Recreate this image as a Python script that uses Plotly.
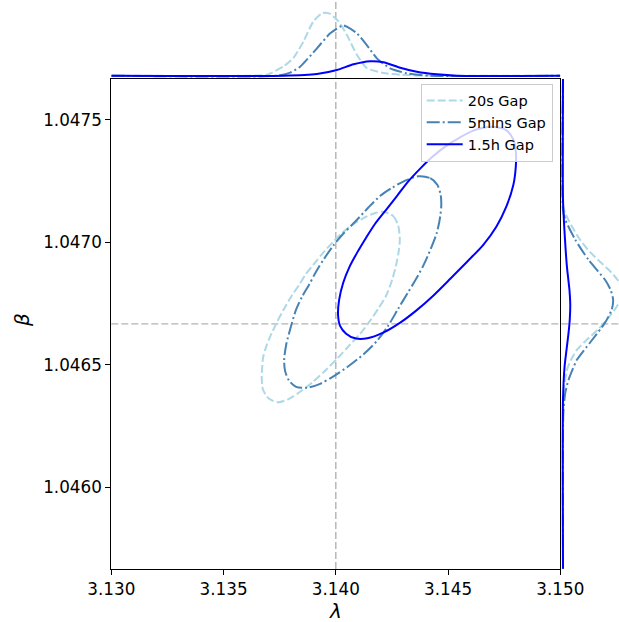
import plotly.graph_objects as go

# ---------------- data ----------------
series_names = ["20s Gap", "5mins Gap", "1.5h Gap"]
truth_lambda = 3.140
truth_beta = 1.046667

# 2D contours (lambda, beta)
c20_lam = [3.14211, 3.14256, 3.14278, 3.14285, 3.14280, 3.14269, 3.14251, 3.14224, 3.14189, 3.14153,
           3.14109, 3.14059, 3.14010, 3.13957, 3.13899, 3.13841, 3.13792, 3.13743, 3.13703, 3.13676,
           3.13670, 3.13672, 3.13676, 3.13690, 3.13707, 3.13739, 3.13770, 3.13801, 3.13837, 3.13868,
           3.13904, 3.13944, 3.13984, 3.14024, 3.14068, 3.14117, 3.14166, 3.14211]
c20_beta = [1.047125, 1.047107, 1.047068, 1.047011, 1.046962, 1.046909, 1.046847, 1.046782, 1.046729, 1.046680,
            1.046627, 1.046578, 1.046529, 1.046480, 1.046431, 1.046390, 1.046361, 1.046347, 1.046361, 1.046398,
            1.046447, 1.046488, 1.046529, 1.046574, 1.046614, 1.046676, 1.046729, 1.046778, 1.046827, 1.046872,
            1.046913, 1.046958, 1.046998, 1.047035, 1.047068, 1.047096, 1.047117, 1.047125]

c5m_lam = [3.14367, 3.14421, 3.14452, 3.14467, 3.14470, 3.14465, 3.14450, 3.14425, 3.14394, 3.14358,
           3.14318, 3.14278, 3.14233, 3.14184, 3.14126, 3.14059, 3.13993, 3.13930, 3.13872, 3.13823,
           3.13792, 3.13774, 3.13770, 3.13779, 3.13801, 3.13823, 3.13850, 3.13881, 3.13912, 3.13948,
           3.13988, 3.14033, 3.14086, 3.14144, 3.14198, 3.14251, 3.14309, 3.14367]
c5m_beta = [1.047270, 1.047262, 1.047235, 1.047194, 1.047154, 1.047105, 1.047039, 1.046978, 1.046913, 1.046851,
            1.046790, 1.046729, 1.046659, 1.046598, 1.046545, 1.046496, 1.046455, 1.046422, 1.046406, 1.046410,
            1.046435, 1.046475, 1.046520, 1.046582, 1.046659, 1.046725, 1.046778, 1.046827, 1.046880, 1.046933,
            1.046986, 1.047035, 1.047084, 1.047141, 1.047190, 1.047223, 1.047252, 1.047270]

c15h_lam = [3.14701, 3.14759, 3.14791, 3.14802, 3.14802, 3.14791, 3.14759, 3.14715, 3.14657, 3.14585,
            3.14510, 3.14434, 3.14358, 3.14287, 3.14211, 3.14140, 3.14086, 3.14046, 3.14019, 3.14010,
            3.14015, 3.14033, 3.14059, 3.14095, 3.14135, 3.14175, 3.14224, 3.14273, 3.14322, 3.14376,
            3.14429, 3.14487, 3.14550, 3.14612, 3.14657, 3.14701]
c15h_beta = [1.047472, 1.047458, 1.047419, 1.047370, 1.047313, 1.047235, 1.047145, 1.047064, 1.046990, 1.046921,
             1.046851, 1.046782, 1.046721, 1.046672, 1.046631, 1.046608, 1.046608, 1.046627, 1.046659, 1.046704,
             1.046766, 1.046835, 1.046896, 1.046958, 1.047019, 1.047076, 1.047133, 1.047190, 1.047248, 1.047301,
             1.047348, 1.047391, 1.047427, 1.047456, 1.047468, 1.047472]

# marginal densities of lambda (arbitrary units)
m20_lam = [3.130, 3.13618, 3.13693, 3.13767, 3.13811, 3.13856, 3.13900, 3.13938, 3.13957, 3.13975,
           3.14012, 3.14049, 3.14094, 3.14138, 3.14212, 3.14287, 3.14361, 3.14465, 3.150]
m20_lam_d = [0.0, 0.0, 0.016, 0.148, 0.281, 0.544, 0.862, 0.99, 1.0, 0.98,
             0.862, 0.651, 0.333, 0.122, 0.043, 0.016, 0.005, 0.0, 0.0]
m5m_lam = [3.130, 3.13737, 3.13797, 3.13841, 3.13916, 3.13975, 3.14019, 3.14034, 3.14049, 3.14094,
           3.14138, 3.14183, 3.14242, 3.14317, 3.14421, 3.150]
m5m_lam_d = [0.0, 0.0, 0.05, 0.143, 0.435, 0.673, 0.778, 0.80, 0.778, 0.673,
             0.487, 0.276, 0.117, 0.038, 0.0, 0.0]
m15h_lam = [3.130, 3.13767, 3.13916, 3.14005, 3.14079, 3.14153, 3.14212, 3.14287, 3.14361, 3.14450,
            3.14540, 3.150]
m15h_lam_d = [0.0, 0.0, 0.027, 0.090, 0.181, 0.23, 0.215, 0.127, 0.063, 0.022, 0.0, 0.0]

# marginal densities of beta (arbitrary units)
m20_beta = [1.045667, 1.046275, 1.046357, 1.046418, 1.046480, 1.046520, 1.046561, 1.046602, 1.046643, 1.046684,
            1.046725, 1.046766, 1.046806, 1.046847, 1.046888, 1.046929, 1.046970, 1.047011, 1.047072, 1.047121,
            1.047154, 1.047667]
m20_beta_d = [0.0, 0.0, 0.008, 0.024, 0.064, 0.127, 0.222, 0.38, 0.556, 0.70,
              0.825, 0.92, 0.94, 0.87, 0.73, 0.556, 0.397, 0.27, 0.127, 0.032,
              0.0, 0.0]
m5m_beta = [1.045667, 1.046234, 1.046316, 1.046386, 1.046439, 1.046520, 1.046590, 1.046672, 1.046725, 1.046766,
            1.046806, 1.046847, 1.046929, 1.047011, 1.047092, 1.047133, 1.047667]
m5m_beta_d = [0.0, 0.0, 0.008, 0.037, 0.089, 0.222, 0.43, 0.671, 0.778, 0.80,
              0.76, 0.671, 0.406, 0.195, 0.037, 0.0, 0.0]
m15h_beta = [1.045667, 1.046357, 1.046492, 1.046561, 1.046631, 1.046684, 1.046745, 1.046806, 1.046900, 1.047011,
             1.047174, 1.047667]
m15h_beta_d = [0.0, 0.0, 0.025, 0.056, 0.089, 0.108, 0.116, 0.103, 0.063, 0.032, 0.0, 0.0]

x_ticks = [3.130, 3.135, 3.140, 3.145, 3.150]
y_ticks = [1.0460, 1.0465, 1.0470, 1.0475]

# ---------------- styling ----------------
W, H = 619, 622
colors = ["#ADD8E6", "#4682B4", "#0000FF"]
dashes = ["8px,3px", "13px,3px,2px,3px", "solid"]
FONT = "DejaVu Sans"

def px_x(p):
    return p / W

def px_y(p):
    return (H - p) / H

main_xdom = [px_x(111.3), px_x(560.3)]
main_ydom = [px_y(569), px_y(79)]
x_range = [3.130, 3.150]
y_range = [1.045666, 1.047667]

contours = [(c20_lam, c20_beta), (c5m_lam, c5m_beta), (c15h_lam, c15h_beta)]
mlam = [(m20_lam, m20_lam_d), (m5m_lam, m5m_lam_d), (m15h_lam, m15h_lam_d)]
mbeta = [(m20_beta, m20_beta_d), (m5m_beta, m5m_beta_d), (m15h_beta, m15h_beta_d)]

fig = go.Figure()
for i, name in enumerate(series_names):
    line = dict(color=colors[i], width=2, dash=dashes[i], shape="spline", smoothing=0.8)
    cx, cy = contours[i]
    fig.add_trace(go.Scatter(x=cx, y=cy, mode="lines", name=name, line=line,
                             legendgroup=name, xaxis="x", yaxis="y"))
for i, name in enumerate(series_names):
    line = dict(color=colors[i], width=2, dash=dashes[i], shape="spline", smoothing=0.6)
    lx, ld = mlam[i]
    fig.add_trace(go.Scatter(x=lx, y=ld, mode="lines", line=line, showlegend=False,
                             legendgroup=name, xaxis="x2", yaxis="y2"))
    by, bd = mbeta[i]
    fig.add_trace(go.Scatter(x=bd, y=by, mode="lines", line=line, showlegend=False,
                             legendgroup=name, xaxis="x3", yaxis="y3"))

truth_line = dict(color="rgba(128,128,128,0.6)", width=1.4, dash="7px,3px")
fig.add_shape(type="line", xref="x", yref="paper", x0=truth_lambda, x1=truth_lambda,
              y0=main_ydom[0], y1=1.0, line=truth_line, layer="below")
fig.add_shape(type="line", xref="paper", yref="y", x0=main_xdom[0], x1=1.0,
              y0=truth_beta, y1=truth_beta, line=truth_line, layer="below")

hidden = dict(showline=False, showgrid=False, zeroline=False, showticklabels=False, ticks="",
              automargin=False)
tickfont = dict(family=FONT, size=16.8, color="black")

fig.update_layout(
    template="none",
    width=W, height=H,
    autosize=False,
    margin=dict(l=0, r=0, t=0, b=0, pad=0, autoexpand=False),
    paper_bgcolor="white", plot_bgcolor="white",
    font=dict(family=FONT, color="black"),
    xaxis=dict(domain=main_xdom, range=x_range, anchor="y", tickvals=x_ticks,
               tickformat=".3f", ticks="outside", ticklen=5, tickwidth=1.1, tickcolor="black",
               showline=True, linecolor="black", linewidth=1.1, mirror=True, automargin=False,
               showgrid=False, zeroline=False, tickfont=tickfont),
    yaxis=dict(domain=main_ydom, range=y_range, anchor="x", tickvals=y_ticks,
               tickformat=".4f", ticks="outside", ticklen=5, tickwidth=1.1, tickcolor="black",
               showline=True, linecolor="black", linewidth=1.1, mirror=True, automargin=False,
               showgrid=False, zeroline=False, tickfont=tickfont),
    xaxis2=dict(domain=main_xdom, range=x_range, anchor="y2", **hidden),
    yaxis2=dict(domain=[main_ydom[1], 1.0], range=[-0.052, 1.202], anchor="x2", **hidden),
    xaxis3=dict(domain=[main_xdom[1], 1.0], range=[-0.043, 0.894], anchor="y3", **hidden),
    yaxis3=dict(domain=main_ydom, range=y_range, anchor="x3", **hidden),
    legend=dict(x=px_x(552.7), y=px_y(83.5), xanchor="right", yanchor="top",
                bgcolor="rgba(255,255,255,0.8)", bordercolor="#cccccc", borderwidth=1,
                font=dict(family=FONT, size=14.5, color="black"), tracegroupgap=0,
                itemwidth=36),
    annotations=[
        dict(text="<i>λ</i>", xref="paper", yref="paper", x=(main_xdom[0] + main_xdom[1]) / 2,
             y=px_y(611), xanchor="center", yanchor="middle", showarrow=False,
             font=dict(family=FONT, size=20, color="black")),
        dict(text="<i>β</i>", xref="paper", yref="paper", x=px_x(22), y=px_y(320),
             xanchor="center", yanchor="middle", showarrow=False, textangle=-90,
             font=dict(family=FONT, size=20, color="black")),
    ],
    showlegend=True,
)

fig.write_html("out.html")
